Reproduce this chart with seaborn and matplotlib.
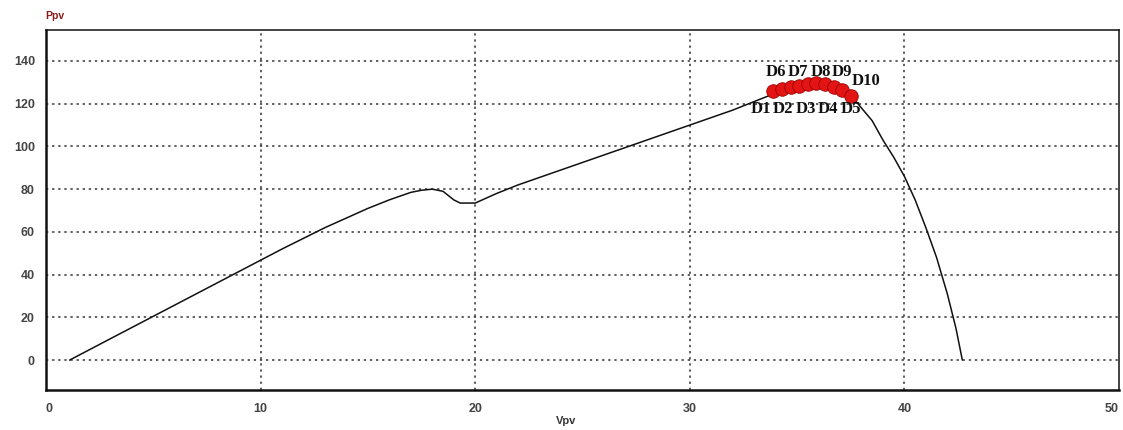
import matplotlib
matplotlib.use("Agg")
import matplotlib.pyplot as plt
import seaborn as sns
import pandas as pd

# ---- data ----
vpv = [1.1, 3, 5, 7, 9, 11, 13, 15, 16, 17, 17.5, 18, 18.5, 19, 19.3, 20, 21, 22,
       24, 26, 28, 30, 32, 33, 34, 35, 36, 37, 37.5, 38, 38.5, 39, 39.5, 40, 40.5,
       41, 41.5, 42, 42.4, 42.7]
ppv = [0, 10, 20.5, 31, 41.5, 52, 62, 71, 75, 78.5, 79.5, 80, 79, 75, 73.5, 73.5, 78, 82,
       89, 96, 103, 110, 117, 121, 125, 127.5, 128.5, 127, 124, 118, 112, 103, 95, 86, 75,
       62, 48, 31, 15, 0]

d_v = [33.9, 34.3, 34.7, 35.1, 35.5, 35.9, 36.3, 36.7, 37.1, 37.5]
d_p = [126, 127, 128, 128.5, 129, 129.5, 129, 128, 126.5, 123.5]

top_labels = ["D6", "D7", "D8", "D9"]
top_label_v = [34.0, 35.05, 36.1, 37.1]
bottom_labels = ["D1", "D2", "D3", "D4", "D5"]
bottom_label_v = [33.3, 34.35, 35.4, 36.45, 37.5]
side_label = "D10"
side_label_v = 38.2

x_ticks = [0, 10, 20, 30, 40, 50]
y_ticks = [0, 20, 40, 60, 80, 100, 120, 140]

curve = pd.DataFrame({"Vpv": vpv, "Ppv": ppv})
pts = pd.DataFrame({"Vpv": d_v, "Ppv": d_p})

sns.set_theme(style="white")
plt.rcParams["font.family"] = ["Liberation Sans", "DejaVu Sans"]

fig = plt.figure(figsize=(11.23, 4.30), dpi=100)
ax = fig.add_axes([46 / 1123, 40 / 430, 1073 / 1123, 360 / 430])

# grid
for xv in [10, 20, 30, 40]:
    ax.axvline(xv, color="#333333", linestyle=(0, (1.5, 2.5)), linewidth=1.1, zorder=0)
for yv in y_ticks:
    ax.axhline(yv, color="#333333", linestyle=(0, (1.5, 2.5)), linewidth=1.1, zorder=0)

sns.lineplot(data=curve, x="Vpv", y="Ppv", ax=ax, color="#111111", linewidth=1.1,
             sort=False, estimator=None, zorder=2)
sns.scatterplot(data=pts, x="Vpv", y="Ppv", ax=ax, color="#e31414", edgecolor="#a00000",
                s=95, linewidth=0.6, zorder=3)

tfont = dict(family="Liberation Serif", fontweight="bold", fontsize=12, color="#111111")
for lab, xv in zip(top_labels, top_label_v):
    ax.text(xv, 135, lab, ha="center", va="center", **tfont)
for lab, xv in zip(bottom_labels, bottom_label_v):
    ax.text(xv, 117.5, lab, ha="center", va="center", **tfont)
ax.text(side_label_v, 130.5, side_label, ha="center", va="center", **tfont)

ax.set_xlim(0, 50)
ax.set_ylim(-14, 154.5)
ax.set_xticks(x_ticks)
ax.set_yticks(y_ticks)
ax.tick_params(axis="both", length=0, labelsize=9, labelcolor="#444444")
ax.tick_params(axis="x", pad=9)
ax.tick_params(axis="y", pad=8)
for lab in ax.get_xticklabels() + ax.get_yticklabels():
    lab.set_fontweight("bold")
ax.get_xticklabels()[-1].set_horizontalalignment("right")
ax.get_xticklabels()[0].set_horizontalalignment("left")
ax.set_xlabel("")
ax.set_ylabel("")

for side in ["left", "bottom"]:
    ax.spines[side].set_linewidth(1.8)
    ax.spines[side].set_color("#111111")
for side in ["top", "right"]:
    ax.spines[side].set_linewidth(1.1)
    ax.spines[side].set_color("#111111")

fig.text(55 / 1123, 1 - 16 / 430, "Ppv", ha="center", va="center", fontsize=7.5,
         color="#8b1a1a", fontweight="bold")
fig.text(566 / 1123, 1 - 421 / 430, "Vpv", ha="center", va="center", fontsize=8,
         color="#333333", fontweight="bold")

fig.savefig("out.png", dpi=100)
